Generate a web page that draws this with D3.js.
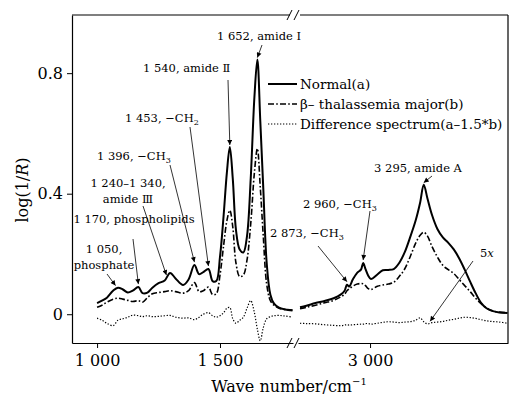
<!DOCTYPE html>
<html>
<head>
<meta charset="utf-8">
<script src="https://cdn.jsdelivr.net/npm/d3@7"></script>
<style>
  html, body { margin: 0; padding: 0; background: #fff; }
  svg { display: block; font-family: "DejaVu Serif", serif; }
</style>
</head>
<body>
<div id="chart"></div>
<script>
// wave numbers, left (fingerprint) and right (high wave number) segments
var leftWaves = [1000, 1020, 1040, 1065, 1085, 1105, 1125, 1145, 1168, 1185, 1205, 1225, 1250, 1275, 1297, 1320, 1350, 1372, 1396, 1415, 1432, 1453, 1470, 1485, 1500, 1515, 1528, 1540, 1552, 1565, 1580, 1595, 1610, 1625, 1640, 1652, 1664, 1676, 1690, 1705, 1720, 1740, 1765, 1795]
var rightWaves = [2615, 2650, 2700, 2750, 2800, 2840, 2860, 2873, 2885, 2905, 2930, 2950, 2962, 2975, 2990, 3005, 3040, 3070, 3100, 3130, 3160, 3190, 3220, 3250, 3275, 3295, 3315, 3340, 3370, 3400, 3430, 3460, 3490, 3520, 3550, 3580, 3610, 3640, 3670, 3710, 3755]

// Normal(a)
var normalLeft = [0.037, 0.045, 0.055, 0.078, 0.088, 0.082, 0.072, 0.078, 0.090, 0.070, 0.072, 0.088, 0.103, 0.112, 0.137, 0.118, 0.097, 0.115, 0.163, 0.133, 0.140, 0.150, 0.110, 0.110, 0.190, 0.330, 0.470, 0.555, 0.450, 0.280, 0.215, 0.205, 0.260, 0.450, 0.720, 0.845, 0.640, 0.420, 0.170, 0.065, 0.035, 0.022, 0.016, 0.012]
var normalRight = [0.023, 0.028, 0.037, 0.044, 0.053, 0.066, 0.078, 0.098, 0.092, 0.115, 0.138, 0.148, 0.170, 0.150, 0.128, 0.117, 0.132, 0.146, 0.147, 0.150, 0.170, 0.205, 0.255, 0.310, 0.370, 0.430, 0.385, 0.330, 0.283, 0.255, 0.237, 0.215, 0.185, 0.148, 0.108, 0.070, 0.038, 0.020, 0.011, 0.006, 0.004]

// β-thalassemia major(b)
var thalLeft = [0.023, 0.030, 0.040, 0.050, 0.053, 0.050, 0.046, 0.042, 0.045, 0.040, 0.055, 0.068, 0.072, 0.075, 0.078, 0.075, 0.070, 0.078, 0.105, 0.075, 0.078, 0.090, 0.065, 0.068, 0.130, 0.230, 0.310, 0.345, 0.290, 0.170, 0.125, 0.130, 0.180, 0.300, 0.470, 0.550, 0.420, 0.260, 0.100, 0.045, 0.030, 0.020, 0.016, 0.014]
var thalRight = [0.018, 0.023, 0.030, 0.038, 0.046, 0.058, 0.066, 0.078, 0.084, 0.093, 0.100, 0.102, 0.101, 0.095, 0.085, 0.082, 0.093, 0.097, 0.100, 0.106, 0.125, 0.150, 0.190, 0.235, 0.262, 0.272, 0.260, 0.225, 0.190, 0.162, 0.148, 0.135, 0.115, 0.095, 0.075, 0.053, 0.035, 0.021, 0.012, 0.007, 0.005]

// Difference spectrum(a-1.5*b)
var diffLeft = [-0.013, -0.020, -0.030, -0.038, -0.020, -0.015, -0.010, -0.003, -0.005, -0.008, -0.005, -0.008, -0.007, -0.005, -0.004, -0.010, -0.013, -0.012, -0.018, -0.010, 0.000, 0.005, -0.005, -0.010, -0.005, 0.005, 0.020, 0.022, -0.015, -0.030, -0.020, -0.010, 0.020, 0.045, 0.005, -0.050, -0.088, -0.045, -0.015, -0.008, -0.005, -0.004, -0.006, -0.010]
var diffRight = [-0.030, -0.031, -0.032, -0.035, -0.037, -0.038, -0.036, -0.035, -0.036, -0.035, -0.034, -0.033, -0.033, -0.031, -0.031, -0.033, -0.030, -0.027, -0.025, -0.026, -0.028, -0.026, -0.025, -0.020, -0.012, -0.025, -0.032, -0.028, -0.026, -0.024, -0.020, -0.017, -0.013, -0.010, -0.011, -0.014, -0.018, -0.022, -0.024, -0.026, -0.030]

var seriesNames = ["Normal(a)", "\u03b2\u2013 thalassemia major(b)", "Difference spectrum(a\u20131.5*b)"]
var yTicks = [0, 0.4, 0.8]
var leftTicks = [1000, 1500]
var rightTicks = [3000]

// peak labels: wave number, value the arrow points at, text lines
var peaks = [
  {wave: 1652, value: 0.845, lines: ["1 652, amide  \u2160"]},
  {wave: 1540, value: 0.555, lines: ["1 540, amide  \u2161"]},
  {wave: 1453, value: 0.150, lines: ["1 453, \u2212CH|2"]},
  {wave: 1396, value: 0.163, lines: ["1 396, \u2212CH|3"]},
  {wave: 1282, value: 0.120, lines: ["1 240\u20131 340,", "amide  \u2162"]},
  {wave: 1168, value: 0.090, lines: ["1 170, phospholipids"]},
  {wave: 1075, value: 0.085, lines: ["1 050,", "phosphate"]},
  {wave: 3295, value: 0.430, lines: ["3 295, amide A"]},
  {wave: 2962, value: 0.170, lines: ["2 960, \u2212CH|3"]},
  {wave: 2873, value: 0.098, lines: ["2 873, \u2212CH|3"]},
  {wave: 3330, value: -0.030, lines: ["5x"]}
]

var width = 509, height = 397
var mLeft = 72, mTop = 15, mBottom = 343, mRight = 508

var xLeft = d3.scaleLinear().domain([898, 1797]).range([mLeft, 293])
var xRight = d3.scaleLinear().domain([2604, 3758]).range([298, mRight])
var y = d3.scaleLinear().domain([-0.0955, 0.993]).range([mBottom, mTop])

var svg = d3.select("#chart").append("svg")
    .attr("width", width)
    .attr("height", height)

svg.append("defs").append("marker")
    .attr("id", "head")
    .attr("viewBox", "0 0 10 10")
    .attr("refX", 10).attr("refY", 5)
    .attr("markerWidth", 7).attr("markerHeight", 5)
    .attr("markerUnits", "userSpaceOnUse")
    .attr("orient", "auto")
  .append("path")
    .attr("d", "M0,0L10,5L0,10z")
    .attr("fill", "#000")

// frame with the axis break
var frame = svg.append("g").attr("stroke", "#000").attr("stroke-width", 1.2).attr("fill", "none")
frame.append("path").attr("d", "M" + mRight + "," + mTop + "V" + mBottom)
frame.append("path").attr("d", "M" + mLeft + "," + mTop + "H290M300," + mTop + "H" + mRight)

function breakMarks(cy) {
  var g = frame.append("g").attr("stroke-width", 1)
  g.append("path").attr("d", "M287," + (cy + 5) + "L292," + (cy - 5))
  g.append("path").attr("d", "M294," + (cy + 5) + "L299," + (cy - 5))
}
breakMarks(mTop)
breakMarks(mBottom)

var fmt = function(d) { return d3.format(",")(d).replace(",", " ") }

function styleAxis(g) {
  g.selectAll(".domain").attr("stroke-width", 1.2)
  g.selectAll(".tick line").attr("stroke-width", 1)
  g.selectAll("text").attr("font-family", "DejaVu Serif").attr("font-size", 16).attr("fill", "#000")
}

svg.append("g")
    .attr("transform", "translate(0," + mBottom + ")")
    .call(d3.axisBottom(xLeft).tickValues(leftTicks).tickSize(5).tickSizeOuter(0).tickPadding(7).tickFormat(fmt))
    .call(styleAxis)

svg.append("g")
    .attr("transform", "translate(0," + mBottom + ")")
    .call(d3.axisBottom(xRight).tickValues(rightTicks).tickSize(5).tickSizeOuter(0).tickPadding(7).tickFormat(fmt))
    .call(styleAxis)

svg.append("g")
    .attr("transform", "translate(" + mLeft + ",0)")
    .call(d3.axisLeft(y).tickValues(yTicks).tickSize(5).tickSizeOuter(0).tickPadding(4).tickFormat(function(d) { return d === 0 ? "0" : d3.format(".1f")(d) }))
    .call(styleAxis)

// axis titles
var yTitle = svg.append("text")
    .attr("transform", "translate(28,190) rotate(-90)")
    .attr("text-anchor", "middle")
    .attr("font-size", 16)
yTitle.append("tspan").text("log(1/")
yTitle.append("tspan").attr("font-style", "italic").text("R")
yTitle.append("tspan").text(")")

var xTitle = svg.append("text")
    .attr("x", 289).attr("y", 392)
    .attr("text-anchor", "middle")
    .attr("font-size", 16)
xTitle.append("tspan").text("Wave number/cm")
xTitle.append("tspan").attr("dy", -7).attr("font-size", 10).text("\u22121")

// curves
var styles = [
  {width: 2, dash: null},
  {width: 1.6, dash: "6,2.2,1.6,2.2"},
  {width: 1.2, dash: "1.3,1.7"}
]
var segments = [
  {x: xLeft, waves: leftWaves, sets: [normalLeft, thalLeft, diffLeft]},
  {x: xRight, waves: rightWaves, sets: [normalRight, thalRight, diffRight]}
]

var curves = svg.append("g").attr("fill", "none").attr("stroke", "#000")
segments.forEach(function(seg) {
  seg.sets.forEach(function(vals, i) {
    var pts = seg.waves.map(function(w, j) { return [w, vals[j]] })
    curves.append("path")
        .datum(pts)
        .attr("stroke-width", styles[i].width)
        .attr("stroke-dasharray", styles[i].dash)
        .attr("stroke-linejoin", "round")
        .attr("d", d3.line().x(function(d) { return seg.x(d[0]) }).y(function(d) { return y(d[1]) }).curve(d3.curveCatmullRom.alpha(0.5)))
  })
})

// legend
var legend = svg.append("g").attr("font-size", 13.5)
seriesNames.forEach(function(name, i) {
  var ly = 89 + i * 20
  legend.append("line")
      .attr("x1", 268).attr("x2", 297)
      .attr("y1", ly - 5).attr("y2", ly - 5)
      .attr("stroke", "#000")
      .attr("stroke-width", styles[i].width)
      .attr("stroke-dasharray", styles[i].dash)
  legend.append("text").attr("x", 300).attr("y", ly).text(name)
})

// peak annotations: text position, arrow start, which axis
var layout = [
  {seg: 0, tx: 259, ty: 40, anchor: "middle", from: [262, 45], dy: -2},
  {seg: 0, tx: 143, ty: 72, anchor: "start", from: [228, 80], dy: -2},
  {seg: 0, tx: 125, ty: 122, anchor: "start", from: [190, 127], dy: -3},
  {seg: 0, tx: 97, ty: 160, anchor: "start", from: [170, 165], dy: -3},
  {seg: 0, tx: 128, ty: 187, anchor: "middle", from: [143, 206], dy: -3},
  {seg: 0, tx: 134, ty: 223, anchor: "middle", from: [133, 239], dy: -3},
  {seg: 0, tx: 104, ty: 253, anchor: "middle", from: [107, 274], dy: -3},
  {seg: 1, tx: 418, ty: 172, anchor: "middle", from: [432, 176], dy: -2},
  {seg: 1, tx: 303, ty: 208, anchor: "start", from: [370, 211], dy: -3},
  {seg: 1, tx: 270, ty: 237, anchor: "start", from: [318, 246], dy: -3},
  {seg: 1, tx: 480, ty: 257, anchor: "start", from: [473, 261], dy: -2}
]

var notes = svg.append("g").attr("font-size", 11.5)
peaks.forEach(function(p, i) {
  var l = layout[i]
  var sx = segments[l.seg].x
  var t = notes.append("text")
      .attr("x", l.tx).attr("y", l.ty)
      .attr("text-anchor", l.anchor)
  p.lines.forEach(function(line, k) {
    var parts = line.split("|")
    var span = t.append("tspan").attr("x", l.tx).attr("dy", k === 0 ? 0 : 16)
    if (line === "5x") {
      span.text("5")
      t.append("tspan").attr("font-style", "italic").text("x")
      return
    }
    span.text(parts[0])
    if (parts[1]) {
      t.append("tspan").attr("dy", 3).attr("font-size", 8).text(parts[1])
    }
  })
  notes.append("line")
      .attr("x1", l.from[0]).attr("y1", l.from[1])
      .attr("x2", sx(p.wave)).attr("y2", y(p.value) + l.dy)
      .attr("stroke", "#000")
      .attr("stroke-width", 0.8)
      .attr("marker-end", "url(#head)")
})
</script>
</body>
</html>
